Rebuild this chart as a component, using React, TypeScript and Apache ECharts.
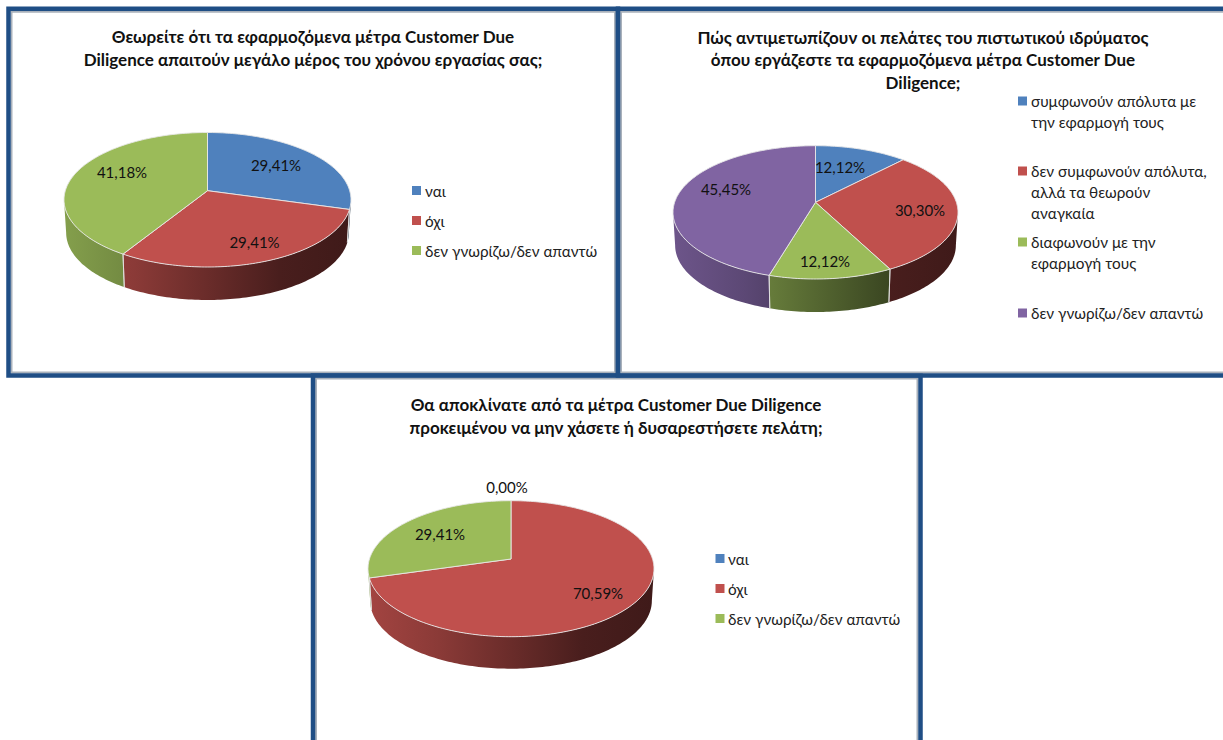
import React, { useEffect, useRef } from "react";
import * as echarts from "echarts";

// Survey answers, one list per question
const q1Title = ["Θεωρείτε ότι τα εφαρμοζόμενα μέτρα Customer Due", "Diligence απαιτούν μεγάλο μέρος του χρόνου εργασίας σας;"];
const q1Categories = ["ναι", "όχι", "δεν γνωρίζω/δεν απαντώ"];
const q1Values = [29.41, 29.41, 41.18];

const q2Title = ["Πώς αντιμετωπίζουν οι πελάτες του πιστωτικού ιδρύματος", "όπου εργάζεστε τα εφαρμοζόμενα μέτρα Customer Due", "Diligence;"];
const q2Categories = ["συμφωνούν απόλυτα με\nτην εφαρμογή τους", "δεν συμφωνούν απόλυτα,\nαλλά τα θεωρούν\nαναγκαία", "διαφωνούν με την\nεφαρμογή τους", "δεν γνωρίζω/δεν απαντώ"];
const q2Values = [12.12, 30.3, 12.12, 45.45];

const q3Title = ["Θα αποκλίνατε από τα μέτρα Customer Due Diligence", "προκειμένου να μην χάσετε ή δυσαρεστήσετε πελάτη;"];
const q3Categories = ["ναι", "όχι", "δεν γνωρίζω/δεν απαντώ"];
const q3Values = [0, 70.59, 29.41];

const sliceColors = ["#4F81BD", "#C0504D", "#9BBB59", "#8064A2"];
const wallShade = [0.85, 0.72, 0.55, 0.38, 0.33];
const FONT = "Lato, 'Noto Sans', sans-serif";

type Layout = {
  frame: number[]; titleX: number; titleY: number[];
  cx: number; apexY: number; rx: number; topY: number; bottomY: number; depth: number;
  labels: number[][]; swatchX: number; textX: number; legendY: number[];
};

const q1Layout: Layout = {
  frame: [8.5, 8.8, 609.5, 366.7], titleX: 313, titleY: [36, 59],
  cx: 207.5, apexY: 190.7, rx: 143.5, topY: 132.5, bottomY: 267, depth: 33,
  labels: [[276, 165], [254.5, 242], [122, 172]],
  swatchX: 412, textX: 425, legendY: [190.5, 220.5, 250.5],
};
const q2Layout: Layout = {
  frame: [618, 8.8, 610, 366.7], titleX: 923, titleY: [37, 59, 82],
  cx: 815.5, apexY: 202.3, rx: 142.5, topY: 145.7, bottomY: 279, depth: 33,
  labels: [[840, 167], [920, 210], [825, 261], [726, 189]],
  swatchX: 1018, textX: 1031, legendY: [101, 171, 242, 313],
};
const q3Layout: Layout = {
  frame: [313, 375.5, 607.5, 372], titleX: 616, titleY: [404, 427],
  cx: 511, apexY: 559, rx: 143, topY: 500.7, bottomY: 636.7, depth: 32,
  labels: [[507, 487], [598, 593], [440, 534]],
  swatchX: 715.5, textX: 728, legendY: [558.5, 588.5, 618.5],
};

// The lower base sits a little further from the eye than the top face
const BASE_SCALE = 0.985;

// Tilt factor of the disc, derived from how far the apex sits above the face's middle
function tilt(l: Layout) {
  const ratio = (l.bottomY - l.apexY) / (l.apexY - l.topY);
  return (ratio - 1) / (ratio + 1);
}

// Perspective projection of the unit disc onto the page: nearer points spread further apart
function projector(l: Layout) {
  const k = tilt(l);
  const B = (l.apexY - l.topY) * (1 + k);
  const A = l.rx * Math.sqrt(1 - k * k);
  return (X: number, Y: number) => {
    const w = 1 - k * Y;
    return [l.cx + (A * X) / w, l.apexY + (B * Y) / w];
  };
}

function rimPoints(l: Layout, from: number, to: number) {
  const project = projector(l);
  const steps = Math.max(2, Math.ceil((to - from) / 0.02));
  const pts: number[][] = [];
  for (let i = 0; i <= steps; i++) {
    const a = from + ((to - from) * i) / steps;
    pts.push(project(Math.sin(a), -Math.cos(a)));
  }
  return pts;
}

function shade(hex: string, f: number) {
  const n = parseInt(hex.slice(1), 16);
  const c = [(n >> 16) & 255, (n >> 8) & 255, n & 255].map((v) => Math.round(v * f));
  return `rgb(${c[0]},${c[1]},${c[2]})`;
}

const pct = (v: number) => v.toFixed(2).replace(".", ",") + "%";

// Three stacked layers per pie: side walls, top faces, value labels
function pieSeries(values: number[], l: Layout) {
  const total = values.reduce((s, v) => s + v, 0);
  const span = (i: number) => {
    const before = values.slice(0, i).reduce((s, v) => s + v, 0);
    return [(before / total) * 2 * Math.PI, ((before + values[i]) / total) * 2 * Math.PI];
  };
  const data = values.map((v) => ({ value: [v] }));
  // The wall is visible only between the two points where the rim turns back
  const frontFrom = Math.acos(-tilt(l));
  const frontTo = 2 * Math.PI - frontFrom;
  const walls = {
    type: "custom", coordinateSystem: "none", silent: true, data, z: 2,
    renderItem: (p: any, api: any) => {
      const [s0, s1] = span(p.dataIndex);
      const a0 = Math.max(s0, frontFrom);
      const a1 = Math.min(s1, frontTo);
      if (api.value(0) <= 0 || a1 <= a0) return { type: "group", children: [] };
      const pts = rimPoints(l, a0, a1);
      const lower = pts.map(([x, y]) => [l.cx + (x - l.cx) * BASE_SCALE, y + l.depth]);
      const color = sliceColors[p.dataIndex];
      const stops = wallShade.map((f, i) => ({ offset: i / (wallShade.length - 1), color: shade(color, f) }));
      const children: any[] = [{
        type: "polygon",
        shape: { points: [...pts, ...lower.slice().reverse()] },
        style: { fill: new echarts.graphic.LinearGradient(l.cx - l.rx, 0, l.cx + l.rx, 0, stops, true) },
      }];
      // light seam where two slices meet on the front of the wall
      [[s0, 0], [s1, pts.length - 1]].forEach(([edge, idx]) => {
        if (edge > frontFrom && edge < frontTo) {
          children.push({
            type: "line", z2: 2,
            shape: { x1: pts[idx][0], y1: pts[idx][1], x2: lower[idx][0], y2: lower[idx][1] },
            style: { stroke: "rgba(225,225,225,0.85)", lineWidth: 1 },
          });
        }
      });
      return { type: "group", children };
    },
  };
  const tops = {
    type: "custom", coordinateSystem: "none", silent: true, data, z: 3,
    renderItem: (p: any, api: any) => {
      if (api.value(0) <= 0) return { type: "group", children: [] };
      const [a0, a1] = span(p.dataIndex);
      const pts = rimPoints(l, a0, a1);
      return {
        type: "polygon",
        shape: { points: [[l.cx, l.apexY], ...pts] },
        style: { fill: sliceColors[p.dataIndex], stroke: "rgba(232,232,232,0.9)", lineWidth: 1, lineJoin: "round" },
      };
    },
  };
  const labels = {
    type: "custom", coordinateSystem: "none", silent: true, data, z: 4,
    renderItem: (p: any, api: any) => ({
      type: "text",
      x: l.labels[p.dataIndex][0],
      y: l.labels[p.dataIndex][1],
      style: { text: pct(api.value(0)), fill: "#111", font: `15px ${FONT}`, align: "center", verticalAlign: "middle" },
    }),
  };
  return [walls, tops, labels];
}

// Frame, title and key of one panel
function panelGraphics(titleLines: string[], categories: string[], l: Layout) {
  const [x, y, w, h] = l.frame;
  const els: any[] = [
    { type: "rect", z: 1, shape: { x: x + 3, y: y + 3, width: w - 6, height: h - 6 }, style: { fill: "#fff", stroke: "#A9B1BB", lineWidth: 2 } },
    { type: "rect", z: 1, shape: { x, y, width: w, height: h }, style: { fill: "none", stroke: "#1F4E85", lineWidth: 4.5 } },
  ];
  titleLines.forEach((line, i) => {
    els.push({
      type: "text", z: 5, x: l.titleX, y: l.titleY[i],
      style: { text: line, fill: "#111", font: `bold 17px ${FONT}`, align: "center", verticalAlign: "middle" },
    });
  });
  categories.forEach((name, i) => {
    els.push({ type: "rect", z: 5, shape: { x: l.swatchX, y: l.legendY[i] - 4.5, width: 9, height: 9 }, style: { fill: sliceColors[i] } });
    name.split("\n").forEach((line, j) => {
      els.push({
        type: "text", z: 5, x: l.textX, y: l.legendY[i] + j * 21,
        style: { text: line, fill: "#222", font: `15.3px ${FONT}`, align: "left", verticalAlign: "middle" },
      });
    });
  });
  return els;
}

export default function App() {
  const ref = useRef<HTMLDivElement>(null);
  useEffect(() => {
    const chart = echarts.init(ref.current!, undefined, { renderer: "svg" });
    chart.setOption({
      animation: false,
      backgroundColor: "#fff",
      graphic: {
        elements: [
          ...panelGraphics(q1Title, q1Categories, q1Layout),
          ...panelGraphics(q3Title, q3Categories, q3Layout),
          ...panelGraphics(q2Title, q2Categories, q2Layout),
        ],
      },
      series: [
        ...pieSeries(q1Values, q1Layout),
        ...pieSeries(q2Values, q2Layout),
        ...pieSeries(q3Values, q3Layout),
      ],
    });
    return () => chart.dispose();
  }, []);
  return <div ref={ref} style={{ position: "fixed", left: 0, top: 0, width: 1223, height: 740 }} />;
}
